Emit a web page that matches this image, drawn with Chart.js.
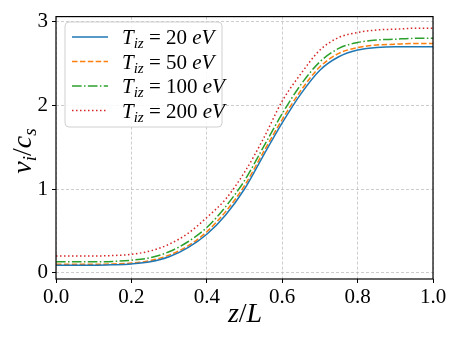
<!DOCTYPE html>
<html>
<head>
<meta charset="utf-8">
<script src="https://cdn.jsdelivr.net/npm/chart.js@4.4.0/dist/chart.umd.min.js"></script>
<style>
  html, body { margin: 0; padding: 0; background: #fff; }
  #wrap { width: 457px; height: 343px; }
</style>
</head>
<body>
<div id="wrap"><canvas id="c" width="457" height="343"></canvas></div>
<script>
const zPos = [0, 0.05, 0.1, 0.15, 0.2, 0.25, 0.3, 0.35, 0.4, 0.45, 0.5,
              0.55, 0.6, 0.65, 0.7, 0.75, 0.8, 0.85, 0.9, 0.95, 1.0];

// v_i / c_s for each ionisation temperature
const v20  = [0.09, 0.09, 0.09, 0.095, 0.105, 0.13, 0.19, 0.3, 0.46, 0.69, 1.0,
              1.4, 1.79, 2.14, 2.42, 2.58, 2.66, 2.69, 2.70, 2.70, 2.70];
const v50  = [0.10, 0.10, 0.10, 0.105, 0.115, 0.145, 0.21, 0.32, 0.49, 0.73, 1.04,
              1.44, 1.83, 2.18, 2.46, 2.62, 2.69, 2.72, 2.73, 2.74, 2.74];
const v100 = [0.13, 0.13, 0.13, 0.135, 0.15, 0.18, 0.25, 0.37, 0.54, 0.79, 1.1,
              1.5, 1.9, 2.25, 2.52, 2.68, 2.75, 2.78, 2.79, 2.80, 2.80];
const v200 = [0.20, 0.20, 0.20, 0.205, 0.22, 0.26, 0.34, 0.47, 0.66, 0.88, 1.2,
              1.6, 2.05, 2.38, 2.66, 2.81, 2.87, 2.90, 2.91, 2.92, 2.92];

const tempLabels = ['20', '50', '100', '200'];
const xTicks = [0, 0.2, 0.4, 0.6, 0.8, 1.0];
const yTicks = [0, 1, 2, 3];

const serif = '"Liberation Serif", "DejaVu Serif", serif';

function pts(ys) {
    return ys.map((y, i) => ({ x: zPos[i], y: y }));
}

const styles = [
    { color: '#1f77b4', dash: [] },
    { color: '#ff7f0e', dash: [5.5, 2.4] },
    { color: '#2ca02c', dash: [9.6, 2.4, 1.5, 2.4] },
    { color: '#d62728', dash: [1.5, 2.5] }
];

const series = [v20, v50, v100, v200];

// draw a row of text pieces (for subscripts), returns end x
function drawRuns(ctx, x, y, parts, measureOnly) {
    for (const p of parts) {
        ctx.font = p.f;
        if (!measureOnly) ctx.fillText(p.t, x, y + (p.dy || 0));
        x += ctx.measureText(p.t).width;
    }
    return x;
}

const decor = {
    id: 'decor',
    afterDatasetsDraw(chart) {
        const ctx = chart.ctx;
        const a = chart.chartArea;
        ctx.save();

        // axes frame
        ctx.strokeStyle = '#000';
        ctx.lineWidth = 1.2;
        ctx.setLineDash([]);
        ctx.strokeRect(a.left, a.top, a.right - a.left, a.bottom - a.top);

        // legend box
        const bx = 65, by = 22, bw = 157, bh = 105, r = 4;
        ctx.beginPath();
        ctx.roundRect(bx, by, bw, bh, r);
        ctx.fillStyle = 'rgba(255,255,255,0.85)';
        ctx.fill();
        ctx.strokeStyle = '#d0d0d0';
        ctx.lineWidth = 1;
        ctx.stroke();

        ctx.fillStyle = '#000';
        ctx.textBaseline = 'alphabetic';
        ctx.textAlign = 'left';
        tempLabels.forEach((t, i) => {
            const rowY = 37 + i * 24.5;
            ctx.beginPath();
            ctx.strokeStyle = styles[i].color;
            ctx.lineWidth = 1.5;
            ctx.setLineDash(styles[i].dash);
            ctx.moveTo(72, rowY);
            ctx.lineTo(108, rowY);
            ctx.stroke();
            ctx.setLineDash([]);
            drawRuns(ctx, 122, rowY + 7, [
                { t: 'T', f: 'italic 21px ' + serif },
                { t: 'iz', f: 'italic 15px ' + serif, dy: 4 },
                { t: ' = ' + t + ' ', f: '21px ' + serif },
                { t: 'eV', f: 'italic 21px ' + serif }
            ]);
        });

        // x title
        const xParts = [
            { t: 'z', f: 'italic 28px ' + serif },
            { t: '/', f: '28px ' + serif },
            { t: 'L', f: 'italic 28px ' + serif }
        ];
        const xw = drawRuns(ctx, 0, 0, xParts, true);
        drawRuns(ctx, 245 - xw / 2, 322, xParts);

        // y title, rotated
        const yParts = [
            { t: 'v', f: 'italic 28px ' + serif },
            { t: 'i', f: 'italic 19px ' + serif, dy: 5 },
            { t: '/', f: '28px ' + serif },
            { t: 'c', f: 'italic 28px ' + serif },
            { t: 's', f: 'italic 19px ' + serif, dy: 5 }
        ];
        const yw = drawRuns(ctx, 0, 0, yParts, true);
        ctx.translate(31, 151);
        ctx.rotate(-Math.PI / 2);
        drawRuns(ctx, -yw / 2, 0, yParts);

        ctx.restore();
    }
};

const gridOpts = {
    color: 'rgba(176,176,176,0.8)',
    lineWidth: 0.8,
    tickColor: '#000',
    tickLength: 4,
    tickWidth: 1,
    tickBorderDash: []
};
const borderOpts = { display: false, dash: [3, 2] };

new Chart(document.getElementById('c'), {
    type: 'line',
    data: {
        datasets: series.map((s, i) => ({
            label: tempLabels[i],
            data: pts(s),
            borderColor: styles[i].color,
            borderDash: styles[i].dash,
            borderWidth: 1.5,
            pointRadius: 0,
            fill: false,
            cubicInterpolationMode: 'monotone'
        }))
    },
    options: {
        responsive: false,
        animation: false,
        devicePixelRatio: 1,
        layout: { padding: { left: 0, right: 24, top: 13, bottom: 0 } },
        plugins: { legend: { display: false }, tooltip: { enabled: false } },
        scales: {
            x: {
                type: 'linear',
                min: 0,
                max: 1,
                grid: gridOpts,
                border: borderOpts,
                afterBuildTicks: (scale) => { scale.ticks = xTicks.map(v => ({ value: v })); },
                afterFit: (scale) => { scale.height = 64; },
                ticks: {
                    color: '#000',
                    padding: 2,
                    maxRotation: 0,
                    font: { family: serif, size: 21 },
                    callback: (v) => Number(v).toFixed(1)
                }
            },
            y: {
                type: 'linear',
                min: -0.075,
                max: 3.06,
                grid: gridOpts,
                border: borderOpts,
                afterBuildTicks: (scale) => { scale.ticks = yTicks.map(v => ({ value: v })); },
                afterFit: (scale) => { scale.width = 56; },
                ticks: {
                    color: '#000',
                    padding: 4,
                    font: { family: serif, size: 21 },
                    callback: (v) => Number(v).toFixed(0)
                }
            }
        }
    },
    plugins: [decor]
});
</script>
</body>
</html>
